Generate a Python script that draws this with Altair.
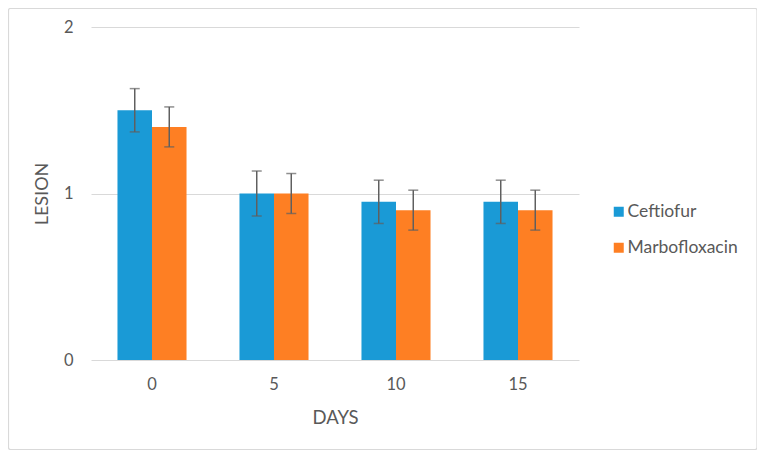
import altair as alt
import pandas as pd

days = ["0", "5", "10", "15"]
drugs = ["Ceftiofur", "Marbofloxacin"]
ceftiofur = [1.50, 1.00, 0.95, 0.95]
marbofloxacin = [1.40, 1.00, 0.90, 0.90]
ceftiofur_err = [0.13, 0.135, 0.13, 0.13]
marbofloxacin_err = [0.12, 0.12, 0.12, 0.12]
y_ticks = [0, 1, 2]
colors = ["#1a9ad6", "#fe7f23"]

rows = []
for d, v, e in zip(days, ceftiofur, ceftiofur_err):
    rows.append({"Day": d, "Drug": "Ceftiofur", "v": v, "lo": v - e, "hi": v + e})
for d, v, e in zip(days, marbofloxacin, marbofloxacin_err):
    rows.append({"Day": d, "Drug": "Marbofloxacin", "v": v, "lo": v - e, "hi": v + e})
df = pd.DataFrame(rows)

FONT = "Lato"
TXT = "#595959"

x = alt.X("Day:N", sort=days,
          scale=alt.Scale(paddingInner=0.434, paddingOuter=0.217),
          axis=alt.Axis(title="DAYS", labelAngle=0, ticks=False, tickSize=0, domain=False,
                        labelOverlap=False,
                        labelPadding=24, labelBaseline="middle", labelFontSize=16.5,
                        labelColor=TXT, labelFont=FONT, titleFont=FONT, titleFontSize=18.5,
                        titleColor=TXT, titleFontWeight="normal", titleY=57,
                        titleBaseline="middle"))
xo = alt.XOffset("Drug:N", sort=drugs, scale=alt.Scale(paddingInner=0, paddingOuter=0))
y = alt.Y("v:Q", scale=alt.Scale(domain=[0, 2]),
          axis=alt.Axis(title="LESION", values=y_ticks,
                        labelExpr="format(datum.value, '.0f')",
                        ticks=False, tickSize=0,
                        domain=False, grid=True, gridColor="#d9d9d9", gridWidth=1.2,
                        labelOverlap=False,
                        labelPadding=18, labelFontSize=16.5, labelColor=TXT, labelFont=FONT,
                        titleFont=FONT, titleFontSize=18, titleColor=TXT,
                        titleFontWeight="normal", titleX=-49, titleY=166.5,
                        titleAlign="center", titleBaseline="middle"))
color = alt.Color("Drug:N", sort=drugs, scale=alt.Scale(domain=drugs, range=colors),
                  legend=alt.Legend(title=None, orient="none", legendX=519, legendY=176,
                                    symbolType="square", symbolSize=100, symbolStrokeWidth=0,
                                    labelFont=FONT, labelFontSize=17.5, labelColor=TXT,
                                    labelOffset=0, rowPadding=17, padding=0))

bars = alt.Chart(df).mark_bar().encode(x=x, xOffset=xo, y=y, color=color)
rules = alt.Chart(df).mark_rule(color="#5f5f5f", strokeWidth=1.5).encode(
    x=alt.X("Day:N", sort=days), xOffset=alt.XOffset("Drug:N", sort=drugs),
    y="lo:Q", y2="hi:Q")
caps_hi = alt.Chart(df).mark_tick(color="#5f5f5f", thickness=1.5, size=10).encode(
    x=alt.X("Day:N", sort=days), xOffset=alt.XOffset("Drug:N", sort=drugs), y="hi:Q")
caps_lo = alt.Chart(df).mark_tick(color="#5f5f5f", thickness=1.5, size=10).encode(
    x=alt.X("Day:N", sort=days), xOffset=alt.XOffset("Drug:N", sort=drugs), y="lo:Q")

frame = alt.Chart(pd.DataFrame({"k": [0]})).mark_rect(
    filled=False, stroke="#d9d9d9", strokeWidth=1.2, cornerRadius=2).encode(
    x=alt.value(-82.5), x2=alt.value(666), y=alt.value(-18.5), y2=alt.value(422.5))

chart = alt.layer(bars, rules, caps_hi, caps_lo, frame).properties(
    width=488, height=333,
    autosize=alt.AutoSizeParams(type="none"),
    padding={"left": 83, "top": 19, "right": 178, "bottom": 90},
    background="white",
).configure_view(stroke=None)

chart.save("out.html", embed_options={"renderer": "svg", "actions": False})
